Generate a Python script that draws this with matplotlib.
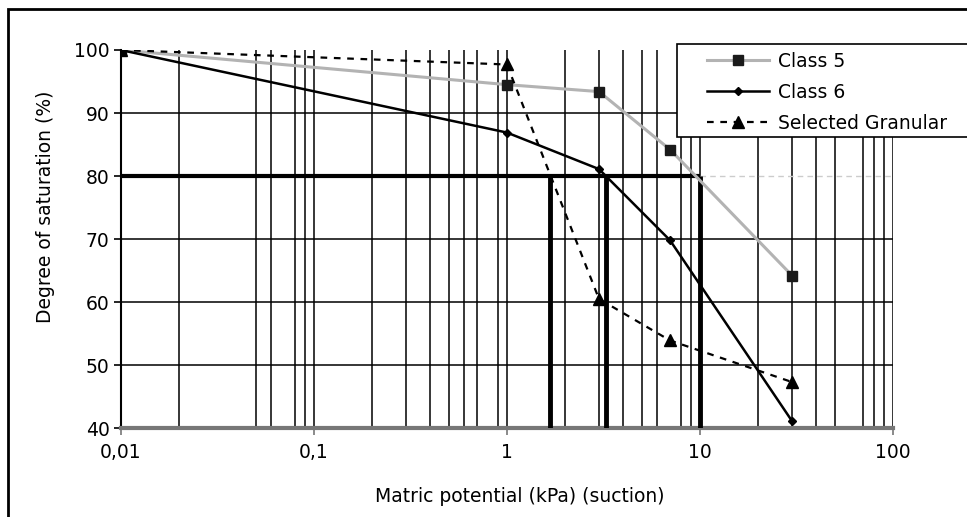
import matplotlib.pyplot as plt
from matplotlib.patches import Rectangle

# suction (kPa) and degree of saturation (%)
suction = [0.01, 1, 3, 7, 30]
class5 = [100, 94.5, 93.4, 84.2, 64.2]
class6 = [100, 86.9, 81.1, 69.8, 41.1]
granular = [100, 97.7, 60.5, 53.9, 47.3]

# suction at 80 % saturation for each curve
s80 = [1.67, 3.26, 10]

xticks = [0.01, 0.1, 1, 10, 100]
xticklabels = ["0,01", "0,1", "1", "10", "100"]
yticks = [40, 50, 60, 70, 80, 90, 100]
# minor grid multipliers per decade, as seen in the picture
grid_mult = {0.01: [2, 5, 6, 8, 9], 0.1: [2, 3, 4, 5, 6, 7, 9],
             1: [2, 3, 4, 5, 6, 8, 9], 10: [2, 3, 4, 5, 7, 8, 9]}
hgrid = [50, 60, 70, 90]

plt.rcParams['font.family'] = ['DejaVu Sans']
fig = plt.figure(figsize=(9.67, 5.17), dpi=100)
ax = fig.add_axes([0.1248, 0.172, 0.7987, 0.7313])

ax.set_xscale('log')
ax.set_xlim(0.01, 100)
ax.set_ylim(40, 100)

minor = [d * m for d, ms in grid_mult.items() for m in ms]
ax.set_xticks(xticks)
ax.set_xticklabels(xticklabels)
ax.set_xticks(minor, minor=True)
ax.set_yticks(yticks)
ax.tick_params(axis='x', which='minor', length=0)
ax.tick_params(axis='x', which='major', length=5, width=1.2, color='#777777',
               labelsize=13.5, pad=6)
ax.tick_params(axis='y', length=5, width=1.2, labelsize=13.5, pad=3)
ax.grid(which='both', axis='x', color='black', lw=1.1)
for h in hgrid:
    ax.axhline(h, color='black', lw=1.1, zorder=1)

for s in ['top', 'right']:
    ax.spines[s].set_visible(False)
ax.spines['left'].set_linewidth(1.5)
ax.spines['bottom'].set_color('#777777')
ax.spines['bottom'].set_linewidth(3)

# 80 % saturation lines
ax.hlines(80, 0.01, s80[-1], color='black', lw=3, zorder=3)
ax.hlines(80, s80[-1], 100, color='#cccccc', lw=1, ls=(0, (4, 3)), zorder=2)
ax.vlines(s80, 40, 80, color='black', lw=3.5, zorder=3)

ax.plot(suction, class5, color='#b3b3b3', lw=2.2, marker='s', ms=7,
        mfc='#1a1a1a', mec='#1a1a1a', label='Class 5', zorder=4)
ax.plot(suction, class6, color='black', lw=1.8, marker='D', ms=4,
        label='Class 6', zorder=5)
ax.plot(suction, granular, color='black', lw=1.6, ls=(0, (3, 3)), marker='^', ms=8,
        label='Selected Granular', zorder=4)

# legend box runs off the right edge like in the original
fig.add_artist(Rectangle((0.700, 0.735), 0.4, 0.18, transform=fig.transFigure,
                         facecolor='white', edgecolor='black', lw=1.2, zorder=4))
handles, labels = ax.get_legend_handles_labels()
leg = fig.legend(handles, labels, loc='upper left', bbox_to_anchor=(0.7115, 0.936),
                 fontsize=13.5, handlelength=3.3, handletextpad=0.5, borderpad=0.5,
                 labelspacing=0.64, frameon=False)
leg.set_zorder(5)

fig.text(0.538, 0.04, 'Matric potential (kPa) (suction)', ha='center', va='center',
         fontsize=13.5)
fig.text(0.047, 0.60, 'Degree of saturation (%)', ha='center', va='center',
         rotation=90, fontsize=13.5)

fig.add_artist(Rectangle((0.008, -0.1), 1.2, 1.0826, transform=fig.transFigure,
                         fill=False, lw=2, edgecolor='black'))

fig.savefig('out.png', dpi=100)
